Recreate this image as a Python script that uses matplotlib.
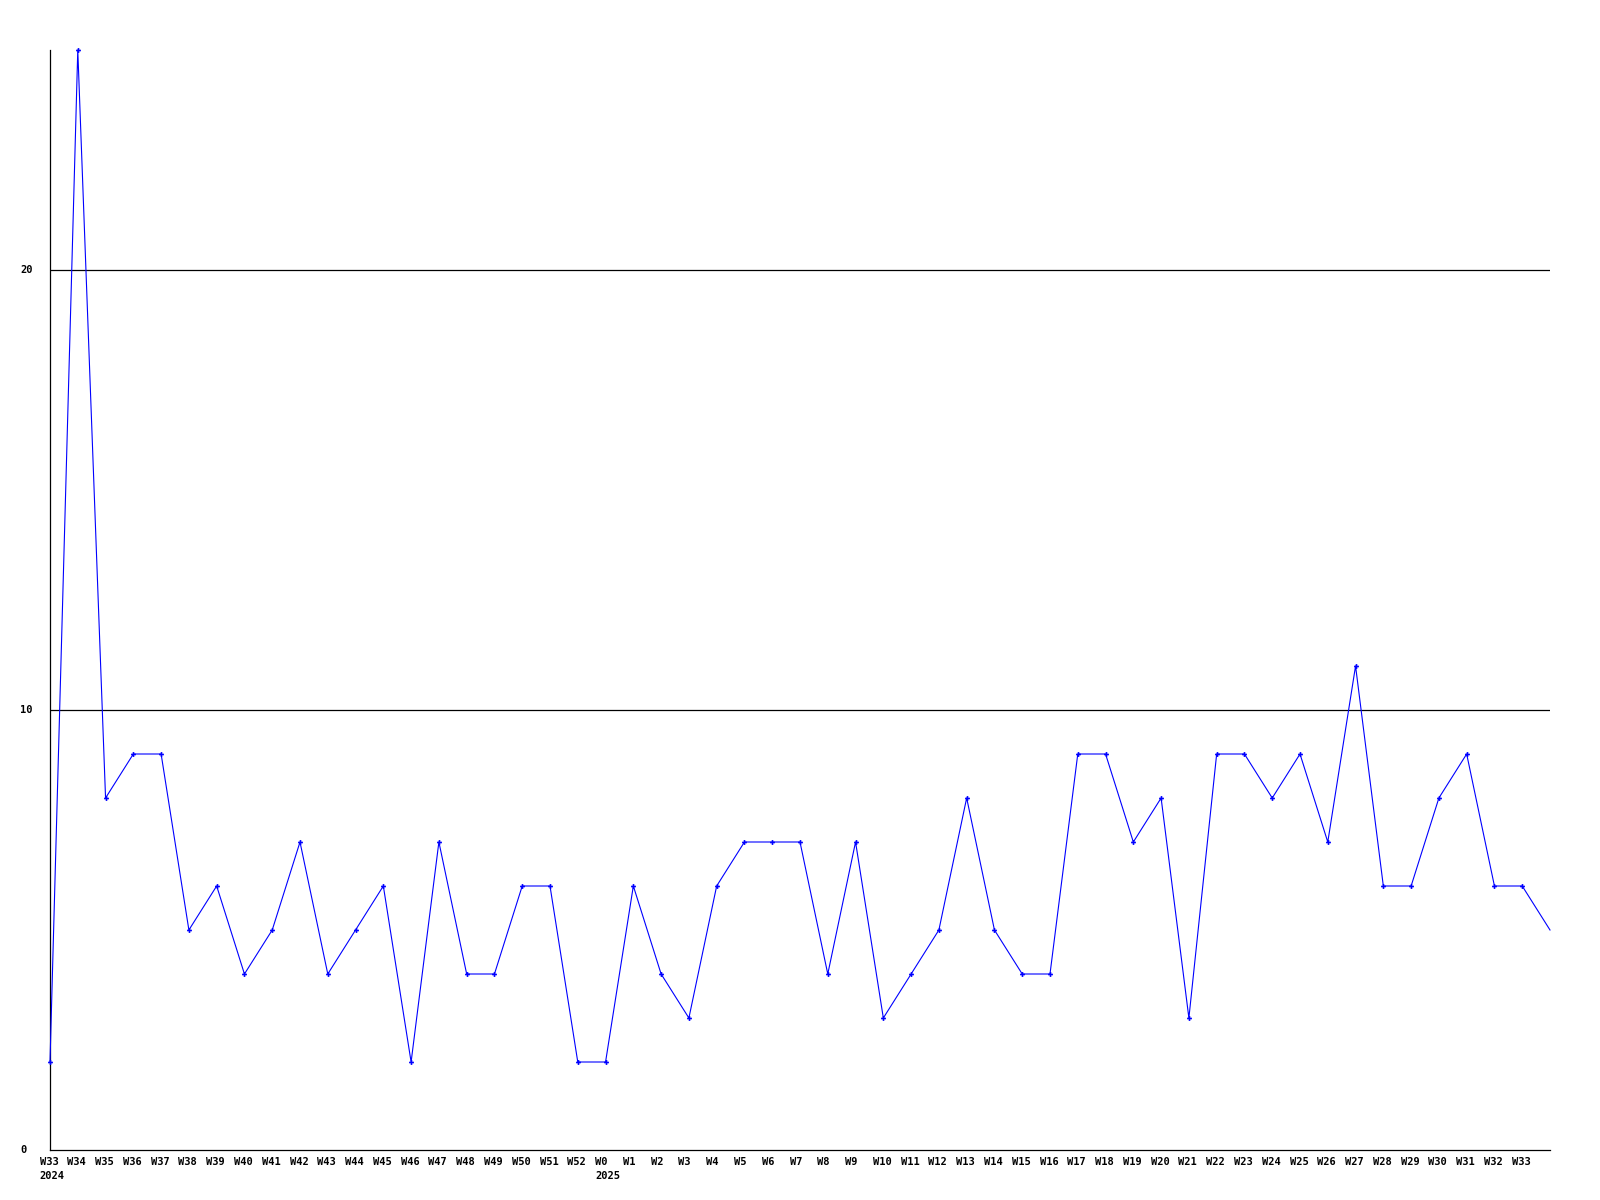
import matplotlib
matplotlib.use("Agg")
import matplotlib.pyplot as plt

weeks_2024 = ["W%d" % w for w in range(33, 53)]
weeks_2025 = ["W0"] + ["W%d" % w for w in range(1, 34)]
week_labels = weeks_2024 + weeks_2025
year_labels = ["2024", "2025"]
year_starts = [0, len(weeks_2024)]

values = [2, 25, 8, 9, 9, 5, 6, 4, 5, 7, 4, 5, 6, 2, 7, 4, 4, 6, 6, 2,
          2, 6, 4, 3, 6, 7, 7, 7, 4, 7, 3, 4, 5, 8, 5, 4, 4, 9, 9, 7,
          8, 3, 9, 9, 8, 9, 7, 11, 6, 6, 8, 9, 6, 6, 5]

y_ticks = [0, 10, 20]

fig = plt.figure(figsize=(16, 12), dpi=100)
ax = fig.add_axes([50/1600, 50/1200, 1500/1600, 1100/1200])

x = list(range(len(values)))
ax.plot(x, values, color="#0000ff", lw=0.8, marker="P", markersize=3.5,
        markeredgewidth=0, markevery=list(range(len(week_labels))), clip_on=False, zorder=3)

for yv in y_ticks[1:]:
    ax.axhline(yv, color="black", lw=0.9, zorder=1)

ax.set_xlim(0, len(values) - 1)
ax.set_ylim(0, 25)
for s in ["top", "right"]:
    ax.spines[s].set_visible(False)
for s in ["left", "bottom"]:
    ax.spines[s].set_linewidth(0.9)

font = dict(family="DejaVu Sans Mono", fontweight="bold", fontsize=7.5)
ax.set_xticks([])
ax.set_yticks([])

for i, lab in enumerate(week_labels):
    ax.annotate(lab, xy=(i, 0), xycoords=("data", "axes fraction"),
                xytext=(-7.5, -8.5), textcoords="offset points",
                ha="left", va="center", **font)

for i, lab in zip(year_starts, year_labels):
    ax.annotate(lab, xy=(i, 0), xycoords=("data", "axes fraction"),
                xytext=(-7.5, -19), textcoords="offset points",
                ha="left", va="center", **font)

for yv in y_ticks:
    ax.annotate(str(yv), xy=(0, yv), xycoords=("axes fraction", "data"),
                xytext=(-21.5, 0), textcoords="offset points",
                ha="left", va="center", **font)

fig.savefig("out.png", dpi=100, facecolor="white")
